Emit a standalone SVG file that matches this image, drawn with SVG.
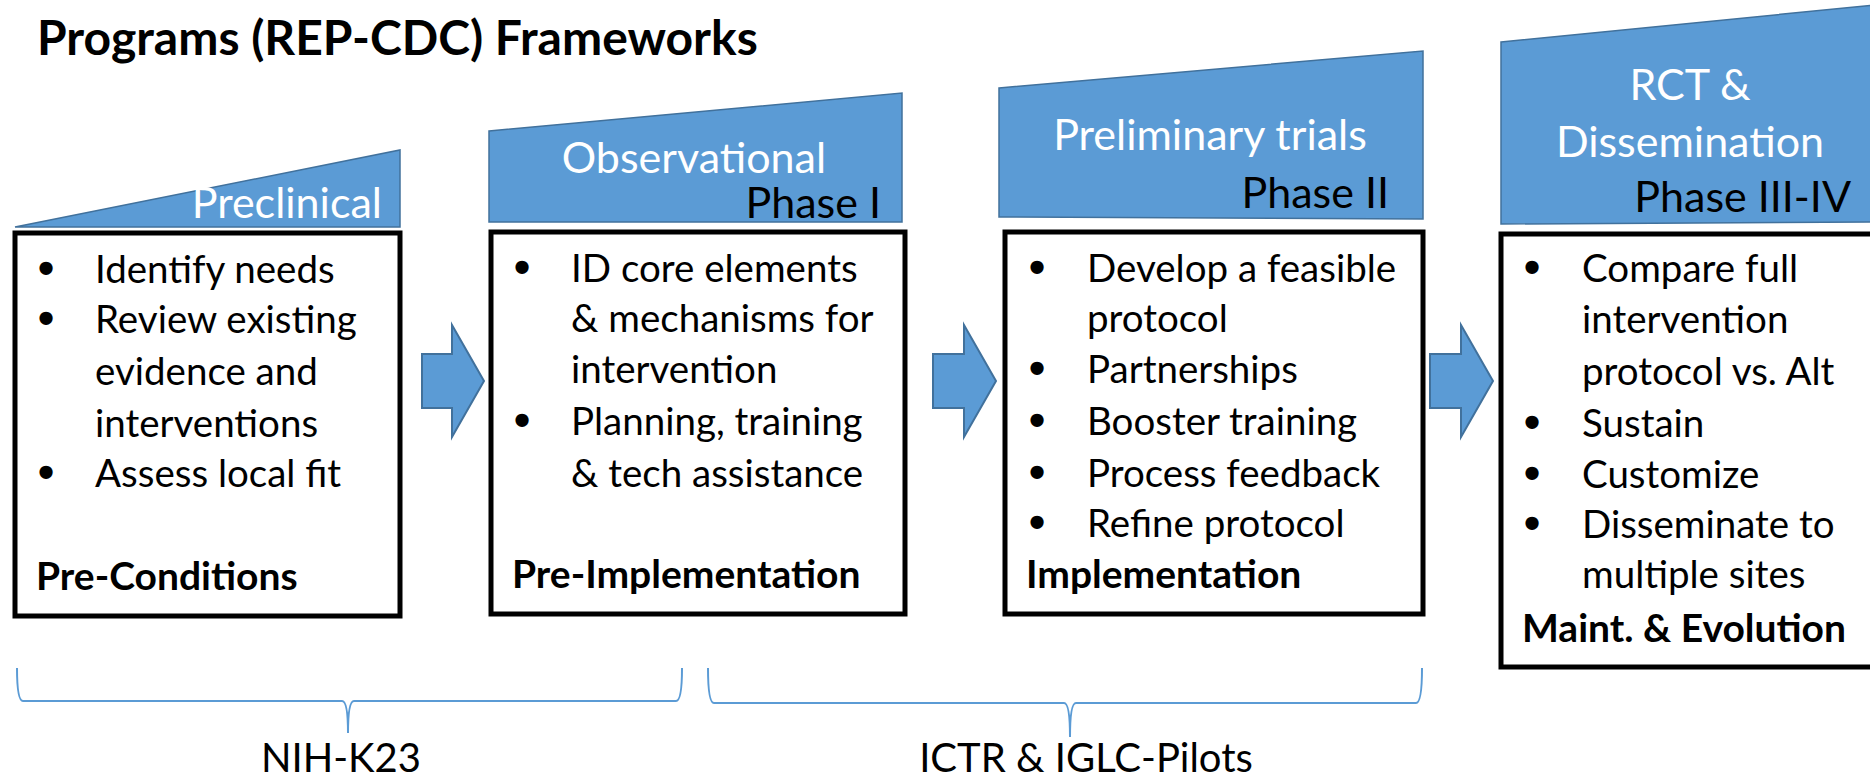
<svg xmlns="http://www.w3.org/2000/svg" width="1870" height="778" viewBox="0 0 1870 778">
<style>
text{font-family:Lato,"Open Sans","Liberation Sans",sans-serif;}
.title{font-size:48px;font-weight:bold;fill:#000;}
.lbl{font-size:43px;fill:#fff;}
.ph{font-size:43px;fill:#000;}
.bt{font-size:38.5px;fill:#000;}
.bu{font-size:46px;font-family:"Liberation Sans",Arial,sans-serif;font-weight:bold;fill:#000;}
.bb{font-size:39px;font-weight:bold;fill:#000;}
.fund{font-size:40px;fill:#000;text-anchor:middle;}
.shape{fill:#5b9bd5;stroke:#41719c;stroke-width:1.5;}
.box{fill:#fff;stroke:#000;stroke-width:5;}
.arrow{fill:#5b9bd5;stroke:#41719c;stroke-width:2;}
.brace{fill:none;stroke:#5b9bd5;stroke-width:2;}
</style>
<rect width="1870" height="778" fill="#fff"/>
<text class="title" x="37" y="55">Programs (REP-CDC) Frameworks</text>

<g id="preclinical">
<polygon class="shape" points="15,227 400,150 400,227"/>
<text class="lbl" x="382" y="218" text-anchor="end">Preclinical</text>
</g>
<g id="observational">
<polygon class="shape" points="489,131 902,93 902,222 489,222"/>
<text class="lbl" x="694" y="173" text-anchor="middle">Observational</text>
<text class="ph" x="881" y="218" text-anchor="end">Phase I</text>
</g>
<g id="preliminary">
<polygon class="shape" points="999,88 1423,51 1423,219 999,217"/>
<text class="lbl" x="1210" y="150" text-anchor="middle">Preliminary trials</text>
<text class="ph" x="1389" y="208" text-anchor="end">Phase II</text>
</g>
<g id="rct">
<polygon class="shape" points="1501,42 1885,4 1885,222 1501,224"/>
<text class="lbl" x="1690" y="100" text-anchor="middle">RCT &amp;</text>
<text class="lbl" x="1690" y="157" text-anchor="middle">Dissemination</text>
<text class="ph" x="1851" y="212" text-anchor="end">Phase III-IV</text>
</g>

<g id="pre-conditions">
<rect class="box" x="15" y="233" width="385" height="383"/>
<text class="bu" x="38" y="284">•</text><text class="bt" x="95" y="283">Identify needs</text>
<text class="bu" x="38" y="334">•</text><text class="bt" x="95" y="333">Review existing</text>
<text class="bt" x="95" y="385">evidence and</text>
<text class="bt" x="95" y="437">interventions</text>
<text class="bu" x="38" y="488">•</text><text class="bt" x="95" y="487">Assess local fit</text>
<text class="bb" x="36" y="590">Pre-Conditions</text>
</g>
<g id="pre-implementation">
<rect class="box" x="491" y="232" width="414" height="382"/>
<text class="bu" x="514" y="283">•</text><text class="bt" x="571" y="282">ID core elements</text>
<text class="bt" x="571" y="332">&amp; mechanisms for</text>
<text class="bt" x="571" y="383">intervention</text>
<text class="bu" x="514" y="436">•</text><text class="bt" x="571" y="435">Planning, training</text>
<text class="bt" x="571" y="487">&amp; tech assistance</text>
<text class="bb" x="512" y="588">Pre-Implementation</text>
</g>
<g id="implementation">
<rect class="box" x="1005" y="232" width="418" height="382"/>
<text class="bu" x="1029" y="283">•</text><text class="bt" x="1087" y="282">Develop a feasible</text>
<text class="bt" x="1087" y="332">protocol</text>
<text class="bu" x="1029" y="384">•</text><text class="bt" x="1087" y="383">Partnerships</text>
<text class="bu" x="1029" y="436">•</text><text class="bt" x="1087" y="435">Booster training</text>
<text class="bu" x="1029" y="488">•</text><text class="bt" x="1087" y="487">Process feedback</text>
<text class="bu" x="1029" y="538">•</text><text class="bt" x="1087" y="537">Refine protocol</text>
<text class="bb" x="1026" y="588">Implementation</text>
</g>
<g id="maintenance">
<rect class="box" x="1501" y="234" width="390" height="433"/>
<text class="bu" x="1524" y="283">•</text><text class="bt" x="1582" y="282">Compare full</text>
<text class="bt" x="1582" y="333">intervention</text>
<text class="bt" x="1582" y="385">protocol vs. Alt</text>
<text class="bu" x="1524" y="438">•</text><text class="bt" x="1582" y="437">Sustain</text>
<text class="bu" x="1524" y="489">•</text><text class="bt" x="1582" y="488">Customize</text>
<text class="bu" x="1524" y="539">•</text><text class="bt" x="1582" y="538">Disseminate to</text>
<text class="bt" x="1582" y="588">multiple sites</text>
<text class="bb" x="1522" y="642">Maint. &amp; Evolution</text>
</g>

<g id="connectors">
<polygon class="arrow" points="422,354 452,354 452,325 484,381 452,437 452,408 422,408"/>
<polygon class="arrow" points="933,354 964,354 964,325 996,381 964,437 964,408 933,408"/>
<polygon class="arrow" points="1430,354 1461,354 1461,325 1493,381 1461,437 1461,408 1430,408"/>
</g>

<g id="nih-k23">
<path class="brace" d="M17,668 Q17,701 23,701 L342,701 Q348,701 348,733 Q348,701 354,701 L676,701 Q682,701 682,668"/>
<text class="fund" x="341" y="772">NIH-K23</text>
</g>
<g id="ictr-iglc">
<path class="brace" d="M708,668 Q708,703 714,703 L1064,703 Q1070,703 1070,737 Q1070,703 1076,703 L1416,703 Q1422,703 1422,668"/>
<text class="fund" x="1086" y="772">ICTR &amp; IGLC-Pilots</text>
</g>
</svg>
